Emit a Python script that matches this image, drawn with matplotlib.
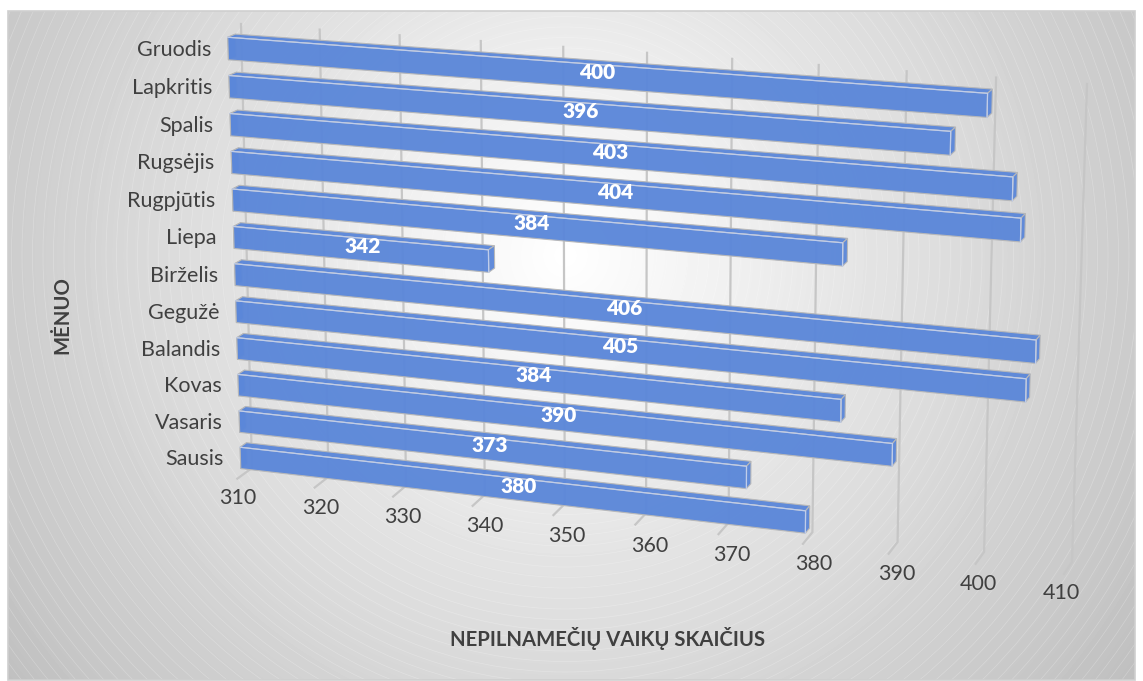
import numpy as np
import matplotlib
matplotlib.use("Agg")
import matplotlib.pyplot as plt
from matplotlib.patches import Polygon, Circle, Rectangle

months = ["Sausis", "Vasaris", "Kovas", "Balandis", "Gegužė", "Birželis",
          "Liepa", "Rugpjūtis", "Rugsėjis", "Spalis", "Lapkritis", "Gruodis"]
children = [380, 373, 390, 384, 405, 406, 342, 384, 404, 403, 396, 400]
value_ticks = [310, 320, 330, 340, 350, 360, 370, 380, 390, 400, 410]

W, H = 1143, 681
plt.rcParams['font.family'] = ['Lato', 'DejaVu Sans']
text_col = '#404040'
blue = '#5B87D9'


def homography(src, dst):
    # plain 4 point DLT, maps (value, row) on a plane to pixels
    a = []
    for (x, y), (u, v) in zip(src, dst):
        a.append([x, y, 1, 0, 0, 0, -u * x, -u * y, -u])
        a.append([0, 0, 0, x, y, 1, -v * x, -v * y, -v])
    return np.linalg.svd(np.array(a))[2][-1].reshape(3, 3)


vmin, vmax = value_ticks[0], value_ticks[-1]
rows = len(months)
plane = [(vmin, 0), (vmax, 0), (vmin, rows), (vmax, rows)]
H_wall = homography(plane, [(252, 468), (1072, 562), (241, 24), (1087, 84)])
H_front = homography(plane, [(241, 476), (1066, 571), (227.5, 29.4), (1079, 91.6)])


def apply(m, v, r):
    p = m @ np.array([v, r, 1.0])
    return p[:2] / p[2]


def project(v, r, d=1.0):
    # d=0 is the back wall, d=1 the front of the bars
    return (1 - d) * apply(H_wall, v, r) + d * apply(H_front, v, r)


fig = plt.figure(figsize=(W / 100, H / 100), dpi=100)
ax = fig.add_axes([0, 0, 1, 1])
ax.set_xlim(0, W)
ax.set_ylim(H, 0)
ax.axis("off")

# chart area: radial gradient with faint banding rings
x0, y0, x1, y1 = 8, 11, 1135, 680
cx, cy = 565, 255
xx, yy = np.meshgrid(np.arange(x0, x1), np.arange(y0, y1))
dist = np.hypot(xx - cx, yy - cy)
shade = 255 - 64 * dist / 710
ax.imshow(shade, cmap='gray', vmin=0, vmax=255, extent=(x0, x1, y1, y0),
          aspect='auto', zorder=0, interpolation='bilinear')
ax.set_xlim(0, W)
ax.set_ylim(H, 0)
frame = Rectangle((x0, y0), x1 - x0, y1 - y0, fill=False, ec='#CFCFCF', lw=1.2, zorder=1)
ax.add_patch(frame)
for rad in np.arange(60, 800, 10.5):
    ring = Circle((cx, cy), rad, fill=False, ec='white', lw=0.5, alpha=0.25, zorder=0.5)
    ax.add_patch(ring)
    ring.set_clip_path(frame)

# wall grid and floor ticks
for v in value_ticks:
    p_top = project(v, rows, 0)
    p_bot = project(v, 0, 0)
    p_tick = project(v, 0, 1.33)
    ax.plot([p_top[0], p_bot[0], p_tick[0]], [p_top[1], p_bot[1], p_tick[1]],
            color='#C6C6C6', lw=1.6, zorder=2, solid_joinstyle='miter')

# bars
bar_lo, bar_hi = 0.205, 0.795
back = 0.42
for i, val in enumerate(children):
    r0, r1 = i + bar_lo, i + bar_hi
    z = 3 + (rows - i) * 0.01
    front_face = [project(vmin, r0), project(val, r0), project(val, r1), project(vmin, r1)]
    top_face = [project(vmin, r1), project(val, r1), project(val, r1, back), project(vmin, r1, back)]
    side_face = [project(val, r0), project(val, r0, back), project(val, r1, back), project(val, r1)]
    left_face = [project(vmin, r0), project(vmin, r1), project(vmin, r1, back), project(vmin, r0, back)]
    for poly in (left_face, top_face, side_face, front_face):
        ax.add_patch(Polygon(poly, closed=True, fc=blue, ec='#B8B8B8', lw=0.8, alpha=0.96, zorder=z))
    a, b, c = project(vmin, r1), project(val, r1), project(val, r0)
    ax.plot([a[0], b[0], c[0]], [a[1], b[1], c[1]], color='#BFCDEB', lw=0.9, zorder=z + 0.001)
    mid = project((vmin + val) / 2, i + 0.5)
    ax.text(mid[0] + 3, mid[1] - 3, str(val), color='white', fontsize=15, fontweight='heavy',
            ha='center', va='center', zorder=10)

# category labels
for i, name in enumerate(months):
    p = project(vmin, i + 0.5)
    ax.text(p[0] - 17, p[1] + 1, name, color=text_col, fontsize=15.5, ha='right', va='center', zorder=10)

# value labels sit on an even spacing, not on the perspective
for v in value_ticks:
    ax.text(238 + (v - vmin) * 8.23, 498 + (v - vmin) * 0.95, str(v), color=text_col,
            fontsize=15.5, ha='center', va='center', zorder=10)

ax.text(608, 638, "NEPILNAMEČIŲ VAIKŲ SKAIČIUS", color=text_col, fontsize=14.6, fontweight='bold',
        ha='center', va='center')
ax.text(62, 315, "MĖNUO", color=text_col, fontsize=14.6, fontweight='bold', rotation=90,
        ha='center', va='center')

fig.savefig("out.png", dpi=100)
